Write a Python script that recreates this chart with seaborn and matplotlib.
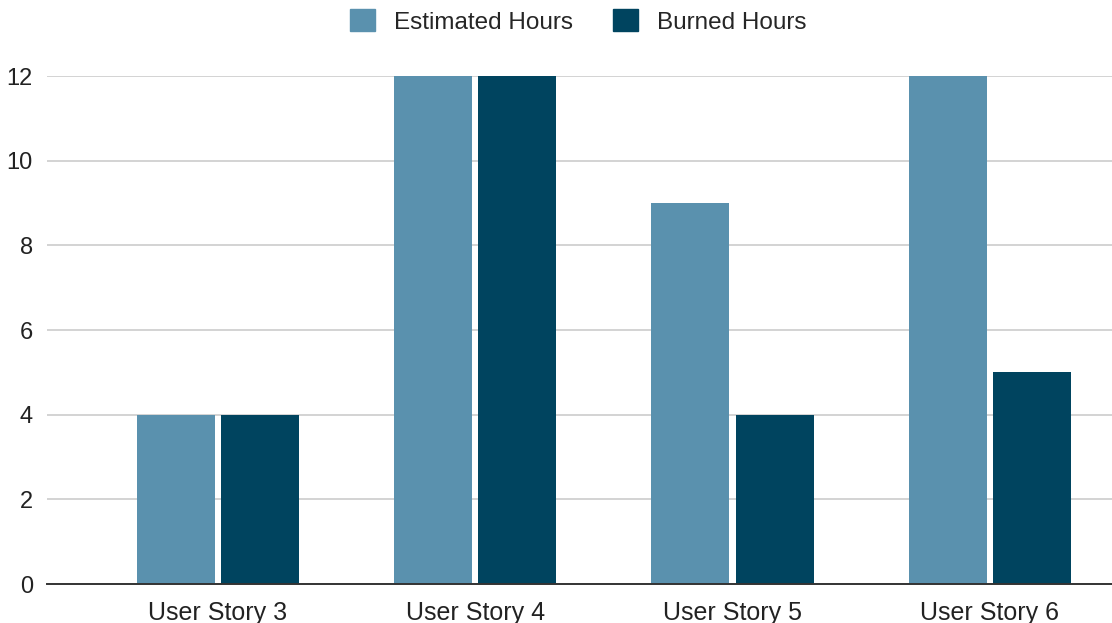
import pandas as pd
import matplotlib.pyplot as plt
import seaborn as sns

# Chart data
stories = ['User Story 3', 'User Story 4', 'User Story 5', 'User Story 6']
estimated = [4, 12, 9, 12]
burned = [4, 12, 4, 5]
series = ['Estimated Hours', 'Burned Hours']
colors = ['#5a91ae', '#00445f']

df = pd.DataFrame({
    'Story': stories * 2,
    'Series': [series[0]] * len(stories) + [series[1]] * len(stories),
    'Hours': estimated + burned,
})

sns.set_style('white')
plt.rcParams['font.family'] = ['Liberation Sans', 'DejaVu Sans']

fig = plt.figure(figsize=(11.12, 6.23), dpi=100)
ax = fig.add_axes([0.042, 0.0626, 0.958, 0.8154])

sns.barplot(data=df, x='Story', y='Hours', hue='Series', palette=colors,
            saturation=1, width=0.655, gap=0.075, linewidth=0, ax=ax, legend=False)

ax.set_xlim(-0.665, 3.475)
ax.set_ylim(0, 12)
ax.set_yticks([0, 2, 4, 6, 8, 10, 12])
ax.yaxis.grid(True, color='#cccccc', linewidth=1.2)
ax.set_axisbelow(True)
for s in ['top', 'right', 'left']:
    ax.spines[s].set_visible(False)
ax.spines['bottom'].set_color('#333333')
ax.spines['bottom'].set_linewidth(1.4)
ax.tick_params(axis='both', length=0, colors='#222222')
ax.tick_params(axis='x', pad=12, labelsize=18)
ax.tick_params(axis='y', pad=10, labelsize=17)
ax.set_xlabel('')
ax.set_ylabel('')

handles = [plt.Rectangle((0, 0), 1, 1, color=c) for c in colors]
fig.legend(handles, series, loc='upper center', bbox_to_anchor=(0.52, 1.02),
           ncol=2, frameon=False, fontsize=17.5, handlelength=1.0, handleheight=1.0,
           columnspacing=1.67, handletextpad=0.78)

fig.savefig('out.png', dpi=100)
